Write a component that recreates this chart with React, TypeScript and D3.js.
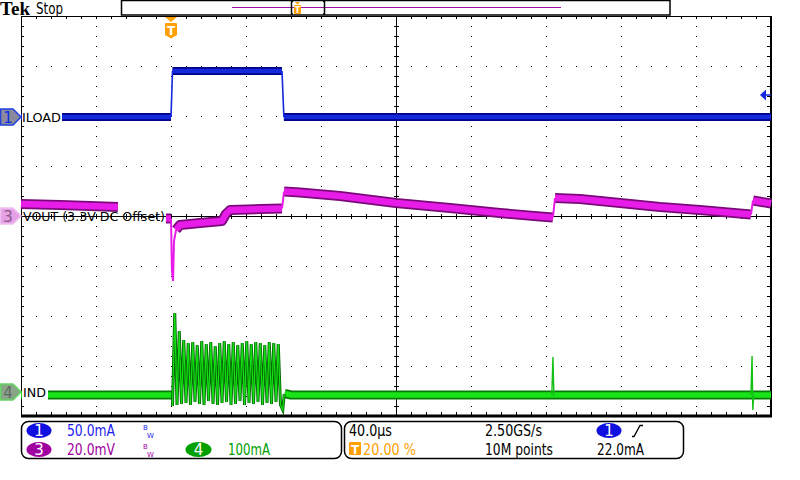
import React from 'react';
import * as d3 from 'd3';

// ---------- DATA ----------
// time in µs (40 µs/div, trigger at 20%)
const iloadT: number[] = [-80, 0, 0.8, 59.2, 60.2, 320];
const iloadMA: number[] = [0, 0, 46, 46, 0, 0];

const voutT: number[] = [-80, -59.2, -43.2, -28.3, -27.0, -2.7, 0, 0.5, 1.1, 1.6, 2.7, 4.8, 15.5, 27.2, 29.3, 31.5, 47.5, 59.2, 60.3, 68.8, 90.1, 120, 148.8, 175.5, 196.8, 203.7, 204.8, 218.1, 239.5, 260.8, 282.1, 309.3, 310.4, 320];
const voutMV: (number | null)[] = [4.8, 4.4, 4.0, 3.6, null, -1.0, -1.0, -22, -26, -10, -5.5, -3.6, -2.8, -2.0, 0.8, 2.4, 2.8, 3.0, 9.8, 9.4, 8.0, 5.2, 3.2, 1.2, -0.2, -0.6, 7.2, 6.8, 5.2, 3.6, 2.4, 0.6, 6.2, 5.0];

const indBaseT: number[] = [-80, 0, 0.8, 59.6, 60.6, 64, 320];
const indBaseMA: (number | null)[] = [-6, -6, -6, null, -3, -6, -6];

const indOscT: number[] = [0.8, 2.0, 3.2, 4.4, 5.6, 6.8, 8.0, 9.2, 10.4, 11.6, 12.8, 14.0, 15.2, 16.4, 17.6, 18.8, 20.0, 21.2, 22.4, 23.6, 24.8, 26.0, 27.2, 28.4, 29.6, 30.8, 32.0, 33.2, 34.4, 35.6, 36.8, 38.0, 39.2, 40.4, 41.6, 42.8, 44.0, 45.2, 46.4, 47.6, 48.8, 50.0, 51.2, 52.4, 53.6, 54.8, 56.0, 57.2, 58.4, 59.6, 60.4];
const indOscMA: number[] = [-28, 158, -26, 122, -24, 104, -22, 98, -26, 100, -20, 94, -24, 102, -26, 96, -18, 100, -24, 92, -26, 98, -22, 102, -20, 96, -26, 100, -24, 94, -18, 98, -26, 102, -22, 96, -24, 100, -20, 98, -26, 94, -22, 100, -24, 98, -20, 96, -26, -36, -4];

const indSpikeT: number[] = [203.1, 203.7, 204.2, 204.6, 309.3, 309.9, 310.3, 310.8];
const indSpikeMA: (number | null)[] = [-6, 70, -8, null, -6, 72, -36, -6];

const trigLevelMA = 22;

// channel settings: scale per div, offset in div
const ch1Scale = 50, ch1Off = 1.98;
const ch3Scale = 20, ch3Off = 0;
const ch4Scale = 100, ch4Off = -3.52;

// ---------- LAYOUT ----------
const GX0 = 21, GX1 = 771, GY0 = 16, GY1 = 416;
const FONT = '"DejaVu Sans", sans-serif';

const x = d3.scaleLinear().domain([-80, 320]).range([GX0, GX1]);
const yDiv = d3.scaleLinear().domain([-4, 4]).range([GY1, GY0]);
const y1 = (v: number) => yDiv(v / ch1Scale + ch1Off);
const y3 = (v: number) => yDiv(v / ch3Scale + ch3Off);
const y4 = (v: number) => yDiv(v / ch4Scale + ch4Off);

type P = [number, number | null];
type XY = [number, number];
const zip = (a: number[], b: (number | null)[]): P[] => a.map((t, i) => [t, b[i]]);
const pathGen = d3.line<XY>().x(d => d[0]).y(d => d[1]);

// split a trace into flat runs (thick band) and steep edges (thin)
function runs(data: P[], fy: (v: number) => number) {
  const out: { steep: boolean; pts: XY[] }[] = [];
  for (let i = 0; i < data.length - 1; i++) {
    const a = data[i], b = data[i + 1];
    if (a[1] === null || b[1] === null) continue;
    const pa: XY = [x(a[0]), fy(a[1])], pb: XY = [x(b[0]), fy(b[1])];
    const steep = Math.abs(pb[1] - pa[1]) > 2.5 * Math.abs(pb[0] - pa[0]);
    const last = out[out.length - 1];
    if (last && last.steep === steep && last.pts[last.pts.length - 1][0] === pa[0] && last.pts[last.pts.length - 1][1] === pa[1]) {
      last.pts.push(pb);
    } else {
      out.push({ steep, pts: [pa, pb] });
    }
  }
  return out;
}

function Trace({ data, fy, dark, bright, wide, thin }: { data: P[]; fy: (v: number) => number; dark: string; bright: string; wide: number; thin: number }) {
  const rs = runs(data, fy);
  return (
    <g>
      {rs.filter(r => !r.steep).map((r, i) => (
        <path key={`d${i}`} d={pathGen(r.pts) || ''} fill="none" stroke={dark} strokeWidth={wide} strokeLinejoin="round" />
      ))}
      {rs.filter(r => !r.steep).map((r, i) => (
        <path key={`b${i}`} d={pathGen(r.pts) || ''} fill="none" stroke={bright} strokeWidth={wide - 3.5} strokeLinejoin="round" />
      ))}
      {rs.filter(r => r.steep).map((r, i) => (
        <path key={`s${i}`} d={pathGen(r.pts) || ''} fill="none" stroke={bright} strokeWidth={thin} />
      ))}
    </g>
  );
}

function Grid() {
  const els: JSX.Element[] = [];
  const cx = (GX0 + GX1) / 2, cy = (GY0 + GY1) / 2;
  for (let i = 1; i < 10; i++) {
    const gx = GX0 + i * 75;
    if (i === 5) continue;
    for (let j = 1; j < 40; j++) els.push(<rect key={`v${i}-${j}`} x={gx} y={GY0 + j * 10} width={1} height={1} fill="#000" />);
    els.push(<rect key={`vt${i}`} x={gx} y={GY0 + 2} width={1} height={1} fill="#000" />);
    els.push(<rect key={`vb${i}`} x={gx} y={GY1 - 3} width={1} height={1} fill="#000" />);
  }
  for (let k = 1; k < 8; k++) {
    const gy = GY0 + k * 50;
    if (k === 4) continue;
    for (let j = 1; j < 50; j++) els.push(<rect key={`h${k}-${j}`} x={GX0 + j * 15} y={gy} width={1} height={1} fill="#000" />);
    els.push(<rect key={`hl${k}`} x={GX0 + 2} y={gy} width={1} height={1} fill="#000" />);
    els.push(<rect key={`hr${k}`} x={GX1 - 4} y={gy} width={1} height={1} fill="#000" />);
  }
  for (let j = 1; j < 50; j++) {
    const tx = GX0 + j * 15;
    els.push(<line key={`tt${j}`} x1={tx + 0.5} x2={tx + 0.5} y1={GY0} y2={GY0 + 3} stroke="#000" strokeWidth={1} />);
    els.push(<line key={`tb${j}`} x1={tx + 0.5} x2={tx + 0.5} y1={GY1 - 4} y2={GY1} stroke="#000" strokeWidth={1} />);
    els.push(<line key={`tc${j}`} x1={tx + 0.5} x2={tx + 0.5} y1={cy - 2} y2={cy + 3} stroke="#000" strokeWidth={1} />);
  }
  for (let j = 1; j < 40; j++) {
    const ty = GY0 + j * 10;
    els.push(<line key={`tl${j}`} x1={GX0} x2={GX0 + 3} y1={ty + 0.5} y2={ty + 0.5} stroke="#000" strokeWidth={1} />);
    els.push(<line key={`tr${j}`} x1={GX1 - 4} x2={GX1} y1={ty + 0.5} y2={ty + 0.5} stroke="#000" strokeWidth={1} />);
    els.push(<line key={`tv${j}`} x1={cx - 2} x2={cx + 3} y1={ty + 0.5} y2={ty + 0.5} stroke="#000" strokeWidth={1} />);
  }
  return (
    <g>
      {els}
      <line x1={cx + 0.5} x2={cx + 0.5} y1={GY0} y2={GY1} stroke="#000" strokeWidth={1} />
      <line x1={GX0} x2={GX1} y1={cy + 0.5} y2={cy + 0.5} stroke="#000" strokeWidth={1} />
      <line x1={GX0 + 0.5} x2={GX0 + 0.5} y1={GY0} y2={GY1} stroke="#000" strokeWidth={1} />
      <line x1={GX0} x2={GX1} y1={GY0 + 0.5} y2={GY0 + 0.5} stroke="#000" strokeWidth={1} />
      <line x1={GX1} x2={GX1} y1={GY0} y2={GY1 + 1} stroke="#000" strokeWidth={2} />
      <line x1={GX0} x2={GX1 + 1} y1={GY1} y2={GY1} stroke="#000" strokeWidth={3} />
    </g>
  );
}

function Marker({ yc, num, fill, stroke, color }: { yc: number; num: string; fill: string; stroke: string; color: string }) {
  const p = `M0.5,${yc - 8} L13,${yc - 8} L21,${yc} L13,${yc + 8} L0.5,${yc + 8} Z`;
  return (
    <g>
      <path d={p} fill={fill} stroke={stroke} strokeWidth={1.5} />
      <text x={8} y={yc + 5.5} fontFamily={FONT} fontSize={15} fill={color} textAnchor="middle">{num}</text>
    </g>
  );
}

function Bw({ x0, y0, color }: { x0: number; y0: number; color: string }) {
  return (
    <g>
      <text x={x0} y={y0} fontFamily={FONT} fontSize={7} fill={color}>B</text>
      <text x={x0 + 4} y={y0 + 8.5} fontFamily={FONT} fontSize={7} fill={color}>W</text>
    </g>
  );
}

export default function App() {
  const indOsc = d3.line<P>().x(d => x(d[0])).y(d => y4(d[1] as number))(zip(indOscT, indOscMA)) || '';
  const indSpk = d3.line<P>().defined(d => d[1] !== null).x(d => x(d[0])).y(d => y4(d[1] as number))(zip(indSpikeT, indSpikeMA)) || '';
  const tx = x(0);
  const ty = y1(trigLevelMA);

  return (
    <svg width={800} height={480} style={{ position: 'absolute', left: 0, top: 0, background: '#fff' }}>
      <rect x={0} y={0} width={800} height={480} fill="#fff" />
      <Grid />

      {/* traces */}
      <Trace data={zip(voutT, voutMV)} fy={y3} dark="#7a0a7a" bright="#e81ce8" wide={10} thin={2} />

      <Trace data={zip(indBaseT, indBaseMA)} fy={y4} dark="#087a08" bright="#18e418" wide={9} thin={1.5} />
      <path d={indOsc} fill="none" stroke="#066806" strokeWidth={3} />
      <path d={indOsc} fill="none" stroke="#14e014" strokeWidth={1.2} />
      <path d={indSpk} fill="none" stroke="#14c014" strokeWidth={1.4} />

      <Trace data={zip(iloadT, iloadMA)} fy={y1} dark="#000088" bright="#1428dc" wide={8} thin={1.6} />

      {/* trace labels */}
      <rect x={GX0 + 1} y={108} width={40} height={18} fill="#fff" />
      <text x={22} y={122} fontFamily={FONT} fontSize={13} textLength={39} lengthAdjust="spacingAndGlyphs">ILOAD</text>
      <text x={23} y={221} fontFamily={FONT} fontSize={13} textLength={142} lengthAdjust="spacingAndGlyphs">VOUT (3.3V DC Offset)</text>
      <rect x={GX0 + 1} y={384} width={26} height={17} fill="#fff" />
      <text x={23} y={397} fontFamily={FONT} fontSize={13} textLength={23} lengthAdjust="spacingAndGlyphs">IND</text>

      {/* channel markers */}
      <Marker yc={y1(0)} num="1" fill="#8a8a9c" stroke="#2040e0" color="#1030e0" />
      <Marker yc={y3(0)} num="3" fill="#e6a0e6" stroke="#f0c0f0" color="#8a5a8a" />
      <Marker yc={y4(0)} num="4" fill="#8aa48a" stroke="#60d860" color="#606a60" />

      {/* trigger level arrow */}
      <path d={`M760,${ty} L766,${ty - 5.5} L766,${ty + 5.5} Z`} fill="#1428dc" />
      <line x1={764} x2={771} y1={ty} y2={ty} stroke="#1428dc" strokeWidth={1.5} />

      {/* trigger position marker */}
      <path d={`M${tx - 6},17 L${tx + 6},17 L${tx},22 Z`} fill="#ffa000" />
      <path d={`M${tx - 6},24 Q${tx - 6},23 ${tx - 5},23 L${tx + 5},23 Q${tx + 6},23 ${tx + 6},24 L${tx + 6},35 L${tx},38.5 L${tx - 6},35 Z`} fill="#ffa000" />
      <text x={tx} y={35} fontFamily={FONT} fontSize={12} fontWeight="bold" fill="#fff" textAnchor="middle">T</text>

      {/* header */}
      <text x={0} y={15} fontFamily='"Liberation Serif", serif' fontWeight="bold" fontSize={18} textLength={30} lengthAdjust="spacingAndGlyphs">Tek</text>
      <text x={36} y={14} fontFamily={FONT} fontSize={15} textLength={27} lengthAdjust="spacingAndGlyphs">Stop</text>
      <rect x={121.5} y={0.5} width={548.5} height={14.5} fill="#fff" stroke="#000" strokeWidth={1.5} />
      <line x1={232} x2={561} y1={7.5} y2={7.5} stroke="#a010a0" strokeWidth={1.2} />
      <path d="M293,1.5 H291.5 V14 H293" fill="none" stroke="#000" strokeWidth={1.5} />
      <path d="M323,1.5 H324.5 V14 H323" fill="none" stroke="#000" strokeWidth={1.5} />
      <path d="M295,2 L300,2 L297.5,4.5 Z" fill="#ffa000" />
      <rect x={294} y={5} width={7} height={9} rx={1} fill="#ffa000" />
      <text x={297.5} y={12.5} fontFamily={FONT} fontSize={8} fontWeight="bold" fill="#fff" textAnchor="middle">T</text>

      {/* bottom panel */}
      <rect x={21.5} y={421.5} width={320} height={37} rx={7} fill="#fff" stroke="#000" strokeWidth={1.5} />
      <rect x={344.5} y={421.5} width={339} height={37} rx={7} fill="#fff" stroke="#000" strokeWidth={1.5} />

      <ellipse cx={39} cy={430.5} rx={12.5} ry={7.5} fill="#1010e0" />
      <text x={39} y={436} fontFamily={FONT} fontSize={15} fill="#fff" textAnchor="middle">1</text>
      <text x={67} y={436} fontFamily={FONT} fontSize={15} fill="#1e1ef0" textLength={48} lengthAdjust="spacingAndGlyphs">50.0mA</text>
      <Bw x0={143} y0={429.5} color="#1e1ef0" />

      <ellipse cx={39} cy={449.5} rx={12.5} ry={7.5} fill="#a000a0" />
      <text x={39} y={455} fontFamily={FONT} fontSize={15} fill="#fff" textAnchor="middle">3</text>
      <text x={67} y={455} fontFamily={FONT} fontSize={15} fill="#a000a0" textLength={48} lengthAdjust="spacingAndGlyphs">20.0mV</text>
      <Bw x0={143} y0={448.5} color="#a000a0" />

      <ellipse cx={198.5} cy={449.5} rx={13} ry={7.5} fill="#00a000" />
      <text x={198.5} y={455} fontFamily={FONT} fontSize={15} fill="#fff" textAnchor="middle">4</text>
      <text x={228} y={455} fontFamily={FONT} fontSize={15} fill="#00a000" textLength={42} lengthAdjust="spacingAndGlyphs">100mA</text>

      <text x={349} y={436} fontFamily={FONT} fontSize={15} fill="#000" textLength={43} lengthAdjust="spacingAndGlyphs">40.0µs</text>
      <rect x={349} y={442} width={12} height={13} rx={1} fill="#ffa000" />
      <text x={355} y={453.5} fontFamily={FONT} fontSize={12} fontWeight="bold" fill="#fff" textAnchor="middle">T</text>
      <text x={363} y={455} fontFamily={FONT} fontSize={15} fill="#ffa000" textLength={53} lengthAdjust="spacingAndGlyphs">20.00 %</text>
      <text x={485} y={436} fontFamily={FONT} fontSize={15} fill="#000" textLength={57} lengthAdjust="spacingAndGlyphs">2.50GS/s</text>
      <text x={485} y={455} fontFamily={FONT} fontSize={15} fill="#000" textLength={68} lengthAdjust="spacingAndGlyphs">10M points</text>
      <ellipse cx={609} cy={430.5} rx={12.5} ry={7.5} fill="#1010e0" />
      <text x={609} y={436} fontFamily={FONT} fontSize={15} fill="#fff" textAnchor="middle">1</text>
      <path d="M632,436.5 H634 L640,425.5 H643" fill="none" stroke="#000" strokeWidth={1.3} />
      <text x={597} y={455} fontFamily={FONT} fontSize={15} fill="#000" textLength={47} lengthAdjust="spacingAndGlyphs">22.0mA</text>
    </svg>
  );
}
